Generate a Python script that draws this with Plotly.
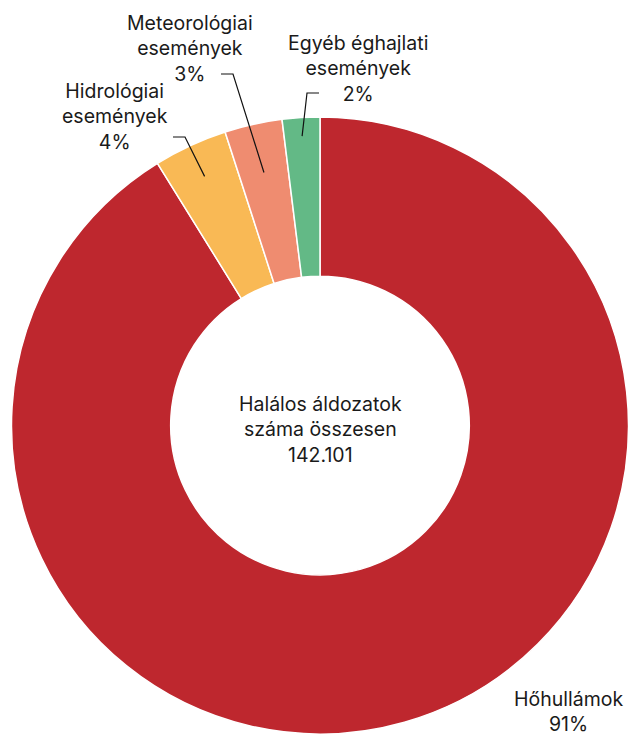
import math
import plotly.graph_objects as go

# ---- data ----
categories = ["Hőhullámok", "Hidrológiai események", "Meteorológiai események", "Egyéb éghajlati események"]
label_lines = [["Hőhullámok"], ["Hidrológiai", "események"], ["Meteorológiai", "események"], ["Egyéb éghajlati", "események"]]
values = [129550, 5480, 4280, 2791]
center_lines = ["Halálos áldozatok", "száma összesen", "142.101"]

# ---- style ----
colors = ["#BE272E", "#F9B955", "#EF8C70", "#63B986"]
PAGE_W, PAGE_H = 637, 738
OFF = 8  # default page body margin
W, H = PAGE_W - OFF, PAGE_H - OFF
CX, CY, R = 320, 425.5, 308.5  # page pixels
FONT = "Inter"
FS = 19.5
TXT = "#1a1a1a"

# label placement (page pixels): center of text block, leader (inner radius fraction, elbow, end)
label_pos = [(568, 711), (115, 116.5), (190, 48.5), (358, 68)]
leaders = [None,
           (0.89, (185, 137), (173, 137)),
           (0.84, (233, 74), (221, 74)),
           (0.94, (307, 93), (319, 93))]


def px2paper(x, y):
    return (x - OFF) / W, 1 - (y - OFF) / H


total = sum(values)
fig = go.Figure(go.Pie(
    labels=categories, values=values, sort=False, direction="clockwise", rotation=0,
    hole=0.484, textinfo="none", hoverinfo="label+value+percent",
    marker=dict(colors=colors, line=dict(color="white", width=1.5)),
    domain=dict(x=[(CX - R - OFF) / W, (CX + R - OFF) / W],
                y=[1 - (CY + R - OFF) / H, 1 - (CY - R - OFF) / H]),
    showlegend=False,
))

annotations = []
shapes = []
cum = 0
for i, v in enumerate(values):
    pct = round(v / total * 100)
    text = "<br>".join(label_lines[i] + [f"{pct}%"])
    lx, ly = px2paper(*label_pos[i])
    annotations.append(dict(x=lx, y=ly, xref="paper", yref="paper", text=text, showarrow=False,
                            xanchor="center", yanchor="middle", align="center",
                            font=dict(family=FONT, size=FS, color=TXT)))
    mid = 2 * math.pi * (cum + v / 2) / total
    cum += v
    if leaders[i]:
        rf, elbow, end = leaders[i]
        px = CX + rf * R * math.sin(mid)
        py = CY - rf * R * math.cos(mid)
        p0 = px2paper(px, py)
        p1 = px2paper(*elbow)
        p2 = px2paper(*end)
        shapes.append(dict(type="path", xref="paper", yref="paper",
                           path=f"M {p0[0]},{p0[1]} L {p1[0]},{p1[1]} L {p2[0]},{p2[1]}",
                           line=dict(color="#111111", width=1.2)))

cx_p, cy_p = px2paper(CX, 429)
annotations.append(dict(x=cx_p, y=cy_p, xref="paper", yref="paper", text="<br>".join(center_lines),
                        showarrow=False, xanchor="center", yanchor="middle", align="center",
                        font=dict(family=FONT, size=FS, color=TXT)))

fig.update_layout(width=W, height=H, margin=dict(l=0, r=0, t=0, b=0),
                  paper_bgcolor="white", plot_bgcolor="white",
                  annotations=annotations, shapes=shapes)
fig.write_html("out.html")
